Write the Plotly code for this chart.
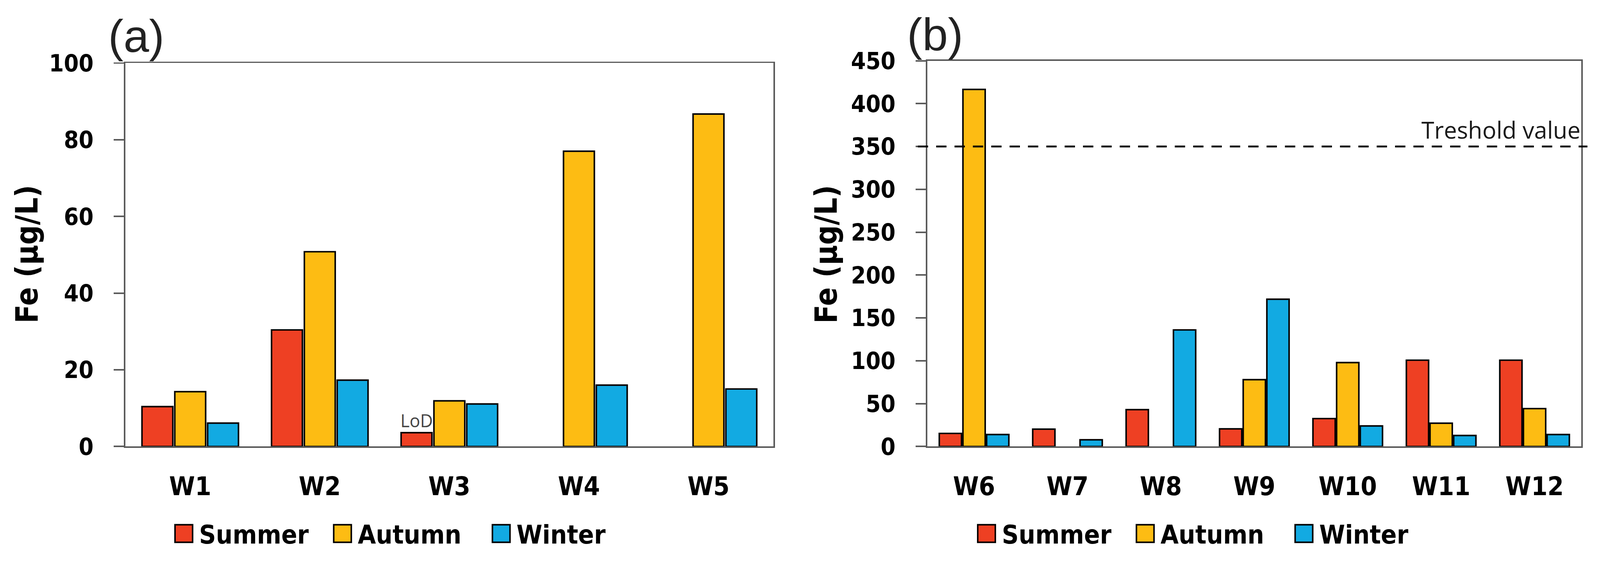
import plotly.graph_objects as go

# Fe concentrations (ug/L)
wells_a = ["W1", "W2", "W3", "W4", "W5"]
summer_a = [10.4, 30.4, 3.6, None, None]
autumn_a = [14.3, 50.8, 11.9, 77.0, 86.7]
winter_a = [6.1, 17.3, 11.1, 16.0, 15.0]

wells_b = ["W6", "W7", "W8", "W9", "W10", "W11", "W12"]
summer_b = [15.3, 20.2, 43.0, 20.6, 32.6, 100.7, 100.7]
autumn_b = [416.6, None, None, 78.0, 97.9, 27.2, 44.2]
winter_b = [14.0, 7.8, 136.0, 171.8, 24.0, 12.8, 14.0]

seasons = ["Summer", "Autumn", "Winter"]
colors = ["#EE4023", "#FDBC13", "#12AAE2"]
threshold = 350
lod_well = "W3"

FONT = "DejaVu Sans Condensed, DejaVu Sans"
BARGAP = 0.24

fig = go.Figure()
for name, col, ya, yb in zip(seasons, colors, [summer_a, autumn_a, winter_a], [summer_b, autumn_b, winter_b]):
    fig.add_trace(go.Bar(x=wells_a, y=ya, name=name, marker=dict(color=col, line=dict(color="black", width=4)),
                         xaxis="x", yaxis="y", legend="legend"))
    fig.add_trace(go.Bar(x=wells_b, y=yb, name=name, marker=dict(color=col, line=dict(color="black", width=4)),
                         xaxis="x2", yaxis="y2", legend="legend2"))

axis_common = dict(showgrid=False, zeroline=False, showline=True, linecolor="#5a5a5a", linewidth=4,
                   mirror=True, automargin=False)
xfont = dict(family=FONT, size=68, color="black", weight="bold")
yfont = dict(family=FONT, size=62, color="black", weight="bold")
legfont = dict(family=FONT, size=68, color="black", weight="bold")

fig.update_layout(
    template="none",
    width=4184, height=1452,
    margin=dict(l=0, r=0, t=0, b=0, autoexpand=False),
    paper_bgcolor="white", plot_bgcolor="white",
    barmode="group", bargap=BARGAP, bargroupgap=0.06,
    xaxis=dict(domain=[0.0784, 0.4833], anchor="y", ticks="", tickfont=xfont, ticklabelstandoff=42, **axis_common),
    yaxis=dict(domain=[0.1956, 0.8864], anchor="x", range=[0, 100], tickvals=list(range(0, 101, 20)),
               ticks="outside", ticklen=27, tickwidth=4, tickcolor="#5a5a5a", tickfont=yfont,
               ticklabelstandoff=40, **axis_common),
    xaxis2=dict(domain=[0.5796, 0.9883], anchor="y2", ticks="", tickfont=xfont, ticklabelstandoff=42, **axis_common),
    yaxis2=dict(domain=[0.1956, 0.8905], anchor="x2", range=[0, 450], tickvals=list(range(0, 451, 50)),
                ticks="outside", ticklen=27, tickwidth=4, tickcolor="#5a5a5a", tickfont=yfont,
                ticklabelstandoff=40, **axis_common),
    legend=dict(orientation="h", x=0.2541, xanchor="center", y=0.0386, yanchor="middle", font=legfont,
                entrywidth=330, itemwidth=70, bgcolor="rgba(0,0,0,0)"),
    legend2=dict(orientation="h", x=0.7558, xanchor="center", y=0.0386, yanchor="middle", font=legfont,
                 entrywidth=330, itemwidth=70, bgcolor="rgba(0,0,0,0)"),
)

# threshold line in panel b
fig.add_shape(type="line", xref="x2 domain", yref="y2", x0=-0.0146, x1=1.0094, y0=threshold, y1=threshold,
              line=dict(color="black", width=5, dash="27px,21px"))
fig.add_annotation(xref="x2 domain", yref="y2", x=1.0, y=threshold, xanchor="right", yanchor="bottom",
                   text="Treshold value", showarrow=False, yshift=0,
                   font=dict(family="Open Sans", size=61, color="#1a1a1a"))

# LoD label above the summer bar of W3
slot = (1 - BARGAP) / 3
fig.add_annotation(xref="x", yref="y", x=wells_a.index(lod_well) - slot, y=summer_a[wells_a.index(lod_well)],
                   text="LoD", showarrow=False, yanchor="bottom", yshift=0,
                   font=dict(family="Open Sans", size=46, color="#444444"))

# panel letters
fig.add_annotation(xref="paper", yref="paper", x=281 / 4184, y=0.935, xanchor="left", yanchor="middle",
                   text="(a)", showarrow=False, font=dict(family="Liberation Sans", size=120, color="#222222"))
fig.add_annotation(xref="paper", yref="paper", x=2370 / 4184, y=0.938, xanchor="left", yanchor="middle",
                   text="(b)", showarrow=False, font=dict(family="Liberation Sans", size=120, color="#222222"))

# y axis titles
for xpos in [0.0167, 0.5163]:
    fig.add_annotation(xref="paper", yref="paper", x=xpos, y=0.542, textangle=-90, showarrow=False,
                       xanchor="center", yanchor="middle",
                       text="Fe (µg/L)", font=dict(family=FONT, size=80, color="black", weight="bold"))

# fit the page to the viewport, and grow the tiny legend swatches into the original square boxes
post = """
document.body.style.margin = '0';
document.body.style.overflow = 'hidden';
var gd = document.querySelector('.plotly-graph-div');
var s = Math.min(window.innerWidth / 4184, window.innerHeight / 1452);
if (s < 1) { gd.style.transformOrigin = '0 0'; gd.style.transform = 'scale(' + s + ')'; }
document.querySelectorAll('.legendpoints path').forEach(function(p){
  var bb = p.getBBox();
  var k = 46 / Math.max(bb.width, 1);
  var cx = bb.x + bb.width / 2, cy = bb.y + bb.height / 2;
  var old = p.getAttribute('transform') || '';
  p.setAttribute('transform', old + ' translate(' + cx + ',' + cy + ') scale(' + k + ') translate(' + (-cx) + ',' + (-cy) + ')');
  p.style.strokeWidth = (4 / k) + 'px';
});
"""

fig.write_html("out.html", post_script=post, config={"displayModeBar": False})
